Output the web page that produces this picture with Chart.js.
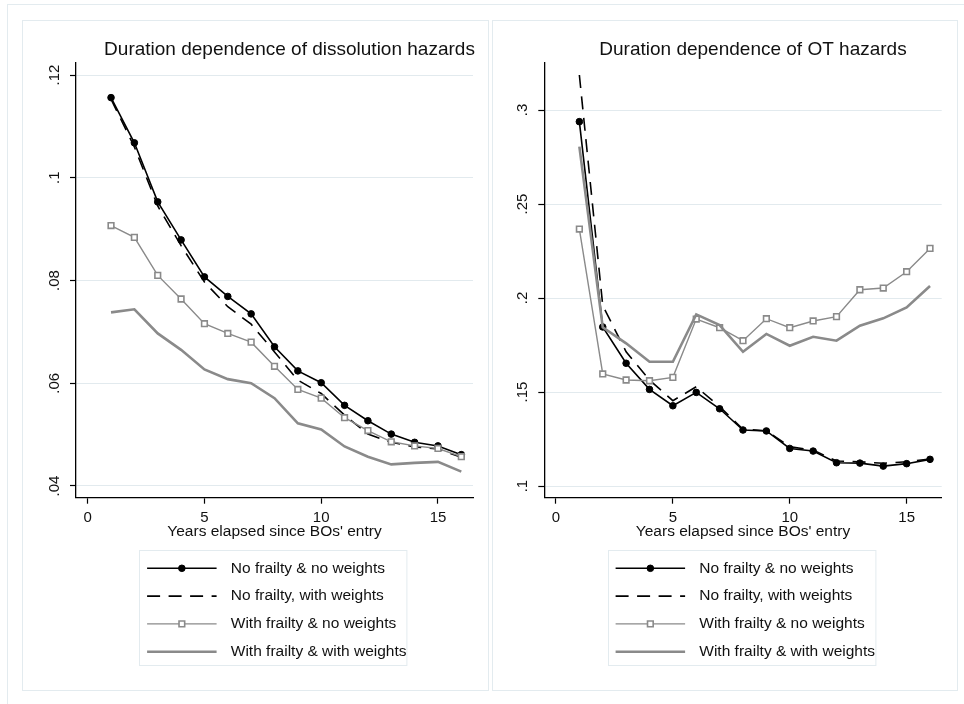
<!DOCTYPE html>
<html>
<head>
<meta charset="utf-8">
<title>Duration dependence of hazards</title>
<script src="https://cdn.jsdelivr.net/npm/chart.js@4.4.1/dist/chart.umd.min.js"></script>
<style>
  html, body { margin: 0; padding: 0; background: #fff; width: 964px; height: 704px; overflow: hidden; }
  .frame { position: absolute; left: 7px; top: 4px; width: 990px; height: 740px; border: 1px solid #e3ebef; }
  .panel { position: absolute; top: 20px; height: 671px; border: 1px solid #e3ebef; box-sizing: border-box; }
  #panelL { left: 22px; width: 467px; }
  #panelR { left: 492px; width: 466px; }
  canvas { position: absolute; top: 20px; }
  #chartL { left: 22px; }
  #chartR { left: 492px; }
</style>
</head>
<body>
<div class="frame"></div>
<div class="panel" id="panelL"></div>
<div class="panel" id="panelR"></div>
<canvas id="chartL" width="466" height="670"></canvas>
<canvas id="chartR" width="465" height="670"></canvas>
<script>
// ---- data ----
const years = [1, 2, 3, 4, 5, 6, 7, 8, 9, 10, 11, 12, 13, 14, 15, 16];
const yearTicks = [0, 5, 10, 15];

const seriesLabels = [
  'No frailty & no weights',
  'No frailty, with weights',
  'With frailty & no weights',
  'With frailty & with weights'
];

// Dissolution hazards
const dissNoFrailtyNoWeights   = [0.1156, 0.1068, 0.0953, 0.0879, 0.0807, 0.0769, 0.0735, 0.0671, 0.0624, 0.0601, 0.0557, 0.0527, 0.0501, 0.0485, 0.0478, 0.0461];
const dissNoFrailtyWeights     = [0.1153, 0.1060, 0.0945, 0.0868, 0.0797, 0.0749, 0.0715, 0.0661, 0.0606, 0.0580, 0.0538, 0.0501, 0.0485, 0.0476, 0.0472, 0.0456];
const dissFrailtyNoWeights     = [0.0907, 0.0884, 0.0810, 0.0764, 0.0716, 0.0697, 0.0680, 0.0633, 0.0588, 0.0571, 0.0533, 0.0508, 0.0486, 0.0478, 0.0473, 0.0457];
const dissFrailtyWeights       = [0.0738, 0.0744, 0.0697, 0.0665, 0.0627, 0.0608, 0.0600, 0.0571, 0.0522, 0.0510, 0.0477, 0.0457, 0.0442, 0.0445, 0.0447, 0.0428];
const dissTicks      = [0.04, 0.06, 0.08, 0.10, 0.12];
const dissTickLabels = ['.04', '.06', '.08', '.1', '.12'];

// OT hazards
const otNoFrailtyNoWeights = [0.2938, 0.1846, 0.1653, 0.1514, 0.1427, 0.1498, 0.1411, 0.1298, 0.1293, 0.1200, 0.1186, 0.1124, 0.1122, 0.1106, 0.1119, 0.1142];
const otNoFrailtyWeights   = [0.3186, 0.1960, 0.1714, 0.1564, 0.1454, 0.1528, 0.1422, 0.1302, 0.1294, 0.1209, 0.1191, 0.1133, 0.1129, 0.1121, 0.1129, 0.1144];
const otFrailtyNoWeights   = [0.2367, 0.1596, 0.1564, 0.1560, 0.1578, 0.1888, 0.1842, 0.1773, 0.1890, 0.1842, 0.1878, 0.1901, 0.2044, 0.2053, 0.2140, 0.2264];
const otFrailtyWeights     = [0.2805, 0.1844, 0.1759, 0.1661, 0.1661, 0.1913, 0.1856, 0.1714, 0.1809, 0.1746, 0.1794, 0.1773, 0.1853, 0.1892, 0.1950, 0.2064];
const otTicks      = [0.10, 0.15, 0.20, 0.25, 0.30];
const otTickLabels = ['.1', '.15', '.2', '.25', '.3'];

// ---- styling ----
const FONT = '"Liberation Sans", Arial, Helvetica, sans-serif';
const INK = '#111';
const GRAY = '#8a8a8a';
const GRID = '#e2eaee';

function buildDatasets(a, b, c, d) {
  const toPts = arr => years.map((x, i) => ({ x, y: arr[i] }));
  return [
    { label: seriesLabels[0], data: toPts(a), borderColor: '#000', backgroundColor: '#000',
      borderWidth: 1.6, pointStyle: 'circle', pointRadius: 3.3, pointBackgroundColor: '#000',
      pointBorderColor: '#000', pointBorderWidth: 1, order: 3 },
    { label: seriesLabels[1], data: toPts(b), borderColor: '#000', backgroundColor: '#000',
      borderWidth: 1.6, borderDash: [13, 8.5], pointRadius: 0, order: 2 },
    { label: seriesLabels[2], data: toPts(c), borderColor: GRAY, backgroundColor: '#fff',
      borderWidth: 1.4, pointStyle: 'rect', pointRadius: 4, pointBackgroundColor: '#fff',
      pointBorderColor: GRAY, pointBorderWidth: 1.6, order: 1 },
    { label: seriesLabels[3], data: toPts(d), borderColor: GRAY, backgroundColor: GRAY,
      borderWidth: 2.6, pointRadius: 0, order: 0 }
  ];
}

// Panel heading, centred a little right of the plot region
const panelTitle = {
  id: 'panelTitle',
  afterDraw(chart, args, opts) {
    const { ctx, chartArea } = chart;
    ctx.save();
    ctx.font = `${opts.size}px ${FONT}`;
    ctx.fillStyle = INK;
    ctx.textAlign = 'center';
    ctx.textBaseline = 'middle';
    ctx.fillText(opts.text, (chartArea.left + chartArea.right) / 2 + opts.shift, chartArea.top - 13);
    ctx.restore();
  }
};

// Boxed single-column key under the x-axis title
const boxLegend = {
  id: 'boxLegend',
  afterDraw(chart, args, opts) {
    const { ctx, chartArea } = chart;
    const cx = (chartArea.left + chartArea.right) / 2 + opts.shift;
    const left = cx - opts.width / 2;
    const top = chartArea.bottom + opts.offsetY;
    ctx.save();
    ctx.strokeStyle = '#e3ebef';
    ctx.lineWidth = 1;
    ctx.strokeRect(Math.round(left) + 0.5, Math.round(top) + 0.5, opts.width, opts.height);
    ctx.font = `${opts.size}px ${FONT}`;
    ctx.textBaseline = 'middle';
    ctx.textAlign = 'left';
    chart.data.datasets.forEach((ds, i) => {
      const y = top + 18.3 + i * 27.8;
      const x0 = left + 8, x1 = left + 77.5;
      ctx.save();
      ctx.strokeStyle = ds.borderColor;
      ctx.lineWidth = ds.borderWidth;
      ctx.setLineDash(ds.borderDash || []);
      ctx.beginPath();
      ctx.moveTo(x0, y);
      ctx.lineTo(x1, y);
      ctx.stroke();
      ctx.setLineDash([]);
      if (ds.pointRadius > 0) {
        ctx.fillStyle = ds.pointBackgroundColor;
        ctx.strokeStyle = ds.pointBorderColor;
        ctx.lineWidth = ds.pointBorderWidth;
        Chart.helpers.drawPoint(ctx, {
          pointStyle: ds.pointStyle, radius: ds.pointRadius, rotation: 0, borderWidth: ds.pointBorderWidth
        }, (x0 + x1) / 2, y);
      }
      ctx.restore();
      ctx.fillStyle = INK;
      ctx.fillText(ds.label, left + 91.7, y);
    });
    ctx.restore();
  }
};

function makePanel(id, cfg) {
  return new Chart(document.getElementById(id), {
    type: 'line',
    data: { datasets: cfg.datasets },
    plugins: [panelTitle, boxLegend],
    options: {
      responsive: false,
      animation: false,
      events: [],
      layout: { padding: { top: 43, right: cfg.padRight, bottom: 148.7, left: 0 } },
      elements: { line: { tension: 0 } },
      plugins: {
        legend: { display: false },
        tooltip: { enabled: false },
        title: { display: false },
        panelTitle: { text: cfg.title, size: 19, shift: cfg.titleShift },
        boxLegend: { width: 267.4, height: 115, offsetY: 52.3, shift: -1.7, size: 15.5 }
      },
      scales: {
        x: {
          type: 'linear',
          min: -0.5, max: 16.5,
          afterBuildTicks: s => { s.ticks = yearTicks.map(v => ({ value: v })); },
          afterFit: s => { s.height = 43.6; },
          ticks: {
            autoSkip: false, maxRotation: 0, minRotation: 0, padding: 5,
            color: INK, font: { family: FONT, size: 15 },
            callback: v => String(v)
          },
          grid: { display: true, drawOnChartArea: false, drawTicks: true, tickLength: 6, tickColor: '#000', tickWidth: 1.2 },
          border: { display: true, color: '#000', width: 1.3 },
          title: {
            display: true, text: "Years elapsed since BOs' entry", color: INK,
            font: { family: FONT, size: 15.5 }, padding: { top: 0, bottom: 0 }
          }
        },
        y: {
          type: 'linear',
          min: cfg.yMin, max: cfg.yMax,
          afterBuildTicks: s => { s.ticks = cfg.ticks.map(v => ({ value: v })); },
          afterFit: s => { s.width = cfg.yWidth; },
          ticks: {
            autoSkip: false, minRotation: 90, maxRotation: 90, crossAlign: 'center', padding: 4.6,
            color: INK, font: { family: FONT, size: 15 },
            callback: (v, i) => cfg.tickLabels[i]
          },
          grid: { color: GRID, lineWidth: 1, drawTicks: true, tickLength: 6, tickColor: '#000', tickWidth: 1.2 },
          border: { display: true, color: '#000', width: 1.3 }
        }
      }
    }
  });
}

makePanel('chartL', {
  title: 'Duration dependence of dissolution hazards',
  titleShift: 15,
  datasets: buildDatasets(dissNoFrailtyNoWeights, dissNoFrailtyWeights, dissFrailtyNoWeights, dissFrailtyWeights),
  ticks: dissTicks, tickLabels: dissTickLabels,
  yMin: 0.03772, yMax: 0.12234,
  yWidth: 54, padRight: 15
});

makePanel('chartR', {
  title: 'Duration dependence of OT hazards',
  titleShift: 10,
  datasets: buildDatasets(otNoFrailtyNoWeights, otNoFrailtyWeights, otFrailtyNoWeights, otFrailtyWeights),
  ticks: otTicks, tickLabels: otTickLabels,
  yMin: 0.0938, yMax: 0.325,
  yWidth: 52.3, padRight: 15.3
});
</script>
</body>
</html>
